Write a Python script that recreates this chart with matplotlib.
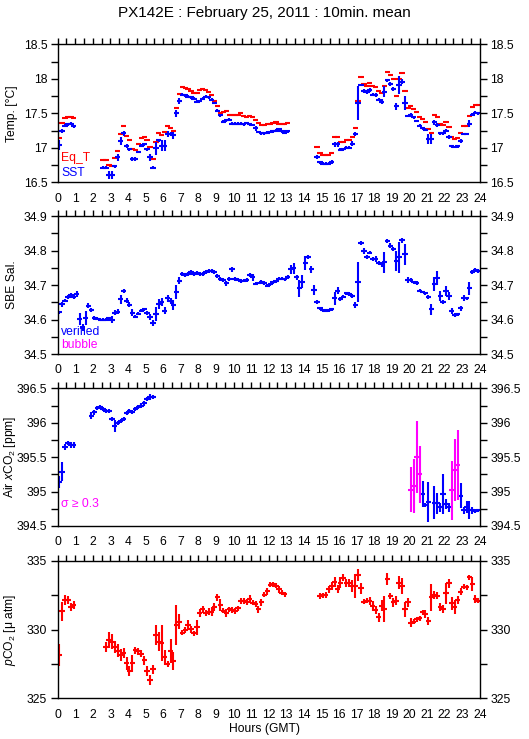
import numpy as np
import matplotlib
matplotlib.use("Agg")
import matplotlib.pyplot as plt
from matplotlib.ticker import MultipleLocator

nan = np.nan
plt.rcParams['font.family'] = ['Liberation Sans', 'DejaVu Sans']
plt.rcParams['mathtext.fontset'] = 'custom'
plt.rcParams['mathtext.rm'] = 'Liberation Sans'
plt.rcParams['mathtext.it'] = 'Liberation Sans:italic'

title = "PX142E : February 25, 2011 : 10min. mean"
hours = (np.arange(144) + 0.5) / 6.0   # 10-minute bin centres

sst = [17.04, 17.24, 17.32, 17.34, 17.35, 17.31,
       nan, nan, nan, nan, nan, nan,
       nan, nan, nan, 16.71, 16.71, 16.61,
       16.61, 16.73, 16.86, 17.10, 17.21, 17.03,
       16.98, 16.84, 16.84, 16.94, 17.03, 17.05,
       16.98, 16.86, 16.71, 16.99, 17.11, 17.03,
       17.03, 17.20, 17.20, 17.18, 17.50, 17.68,
       17.77, 17.76, 17.74, 17.73, 17.71, 17.67,
       17.68, 17.71, 17.74, 17.73, 17.70, 17.65,
       17.54, 17.47, 17.38, 17.40, 17.41, 17.35,
       17.35, 17.35, 17.35, 17.34, 17.36, 17.34,
       17.33, 17.28, 17.23, 17.21, 17.21, 17.22,
       17.23, 17.24, 17.25, 17.27, 17.24, 17.22,
       17.24, nan, nan, nan, nan, nan,
       nan, nan, nan, nan, 16.87, 16.79,
       16.77, 16.77, 16.77, 16.80, 17.05, 17.05,
       16.97, 16.98, 17.00, 17.00, 17.06, 17.20,
       17.65, 17.91, 17.82, 17.81, 17.84, 17.77,
       17.76, 17.70, 17.67, 17.81, 17.98, 17.93,
       17.85, 17.60, 17.91, 17.96, 17.65, 17.46,
       17.48, 17.44, 17.39, 17.32, 17.28, 17.26,
       17.13, 17.13, 17.37, 17.33, 17.21, 17.21,
       17.25, 17.16, 17.02, 17.01, 17.02, 17.10,
       17.20, 17.20, 17.35, 17.48, 17.51, 17.50]
sst_err = [.07, .03, .02, .02, .02, .02,
           0, 0, 0, 0, 0, 0,
           0, 0, 0, .02, .02, .06,
           .06, .02, .05, .06, .04, .03,
           .02, .03, .03, .02, .02, .02,
           .02, .05, .02, .10, .02, .08,
           .08, .04, .03, .05, .05, .04,
           .02, .02, .02, .02, .02, .02,
           .02, .02, .02, .02, .02, .02,
           .02, .02, .02, .02, .02, .02,
           .02, .02, .02, .02, .02, .02,
           .02, .03, .02, .02, .02, .02,
           .02, .02, .02, .02, .02, .02,
           .02, 0, 0, 0, 0, 0,
           0, 0, 0, 0, .03, .02,
           .02, .02, .02, .03, .04, .04,
           .02, .02, .02, .02, .04, .03,
           .24, .02, .03, .03, .03, .02,
           .03, .02, .03, .08, .02, .03,
           .03, .05, .13, .03, .10, .02,
           .03, .02, .02, .02, .02, .02,
           .07, .07, .04, .03, .02, .02,
           .02, .03, .02, .02, .02, .03,
           .02, .02, .05, .02, .02, .02]
eqt = [17.14, 17.36, 17.43, 17.45, 17.45, 17.43,
       nan, nan, nan, nan, nan, nan,
       nan, nan, nan, 16.83, 16.83, 16.75,
       16.74, 16.85, 16.96, 17.20, 17.32, 17.17,
       17.11, 16.98, 16.97, 17.05, 17.14, 17.16,
       17.11, 17.01, 16.84, 17.09, 17.22, 17.18,
       17.23, 17.31, 17.28, 17.25, 17.57, 17.78,
       17.88, 17.87, 17.85, 17.83, 17.80, 17.80,
       17.84, 17.85, 17.84, 17.81, 17.77, 17.68,
       17.60, 17.51, 17.52, 17.53, 17.48, 17.47,
       17.47, 17.48, 17.50, 17.46, 17.45, 17.46,
       17.45, 17.40, 17.36, 17.33, 17.33, 17.35,
       17.35, 17.36, 17.38, 17.35, 17.34, 17.35,
       17.36, nan, nan, nan, nan, nan,
       nan, nan, nan, nan, 17.01, 16.92,
       16.90, 16.89, 16.89, 16.93, 17.15, 17.16,
       17.09, 17.09, 17.12, 17.11, 17.16, 17.28,
       17.68, 18.02, 17.93, 17.90, 17.94, 17.89,
       17.88, 17.82, 17.79, 17.90, 18.10, 18.05,
       17.99, 17.75, 17.99, 18.09, 17.82, 17.57,
       17.60, 17.56, 17.52, 17.44, 17.42, 17.38,
       17.27, 17.21, 17.47, 17.45, 17.34, 17.33,
       17.37, 17.30, 17.15, 17.13, 17.14, 17.21,
       17.31, 17.31, 17.46, 17.59, 17.62, 17.62]

sal = [34.621, 34.644, 34.655, 34.665, 34.672, 34.665,
       34.674, 34.601, 34.577, 34.605, 34.640, 34.628,
       34.605, 34.602, 34.600, 34.599, 34.600, 34.603,
       34.600, 34.620, 34.623, 34.658, 34.683, 34.655,
       34.643, 34.620, 34.608, 34.617, 34.626, 34.629,
       34.620, 34.608, 34.590, 34.615, 34.645, 34.650,
       34.626, 34.661, 34.653, 34.642, 34.680, 34.713,
       34.733, 34.730, 34.733, 34.737, 34.733, 34.734,
       34.733, 34.733, 34.737, 34.740, 34.741, 34.737,
       34.725, 34.718, 34.714, 34.705, 34.718, 34.745,
       34.718, 34.715, 34.712, 34.713, 34.715, 34.730,
       34.722, 34.704, 34.706, 34.709, 34.707, 34.698,
       34.702, 34.708, 34.711, 34.718, 34.718, 34.716,
       34.724, 34.745, 34.748, 34.722, 34.690, 34.710,
       34.763, 34.780, 34.745, 34.685, 34.651, 34.632,
       34.627, 34.626, 34.627, 34.629, 34.661, 34.684,
       34.660, 34.666, 34.676, 34.674, 34.668, 34.642,
       34.708, 34.821, 34.799, 34.781, 34.794, 34.776,
       34.776, 34.763, 34.760, 34.766, 34.828, 34.814,
       34.804, 34.770, 34.780, 34.829, 34.789, 34.714,
       34.715, 34.708, 34.707, 34.683, 34.680, 34.676,
       34.666, 34.629, 34.703, 34.721, 34.669, 34.651,
       34.683, 34.669, 34.625, 34.613, 34.615, 34.632,
       34.663, 34.661, 34.690, 34.737, 34.743, 34.740]
sal_err = [.005, .008, .005, .005, .005, .006,
           .010, .018, .010, .020, .008, .006,
           .005, .004, .004, .004, .004, .004,
           .010, .008, .006, .012, .005, .008,
           .008, .010, .005, .005, .004, .004,
           .006, .008, .010, .020, .015, .012,
           .010, .010, .008, .015, .020, .010,
           .006, .006, .006, .006, .006, .006,
           .006, .006, .006, .006, .006, .006,
           .006, .006, .006, .008, .006, .006,
           .005, .004, .005, .004, .005, .006,
           .010, .004, .004, .005, .006, .005,
           .004, .004, .004, .004, .004, .005,
           .006, .012, .015, .008, .025, .020,
           .020, .006, .010, .015, .005, .005,
           .004, .004, .004, .004, .020, .010,
           .005, .005, .005, .006, .006, .010,
           .058, .006, .008, .006, .005, .006,
           .008, .006, .008, .030, .005, .008,
           .006, .030, .045, .006, .030, .008,
           .006, .004, .006, .004, .004, .004,
           .006, .015, .020, .020, .015, .005,
           .015, .012, .008, .005, .005, .008,
           .008, .005, .018, .006, .005, .006]

air = [395.14, 395.29, 395.65, 395.70, 395.68, 395.68,
       nan, nan, nan, nan, nan, 396.10,
       396.15, 396.21, 396.23, 396.20, 396.17, 396.17,
       396.06, 395.95, 395.99, 396.02, 396.06, 396.14,
       396.17, 396.16, 396.20, 396.23, 396.25, 396.28,
       396.35, 396.37, 396.37, nan, nan, nan] + [nan] * 84 + \
      [395.03, 395.08, 395.50, 395.25, 394.96, 394.80,
       394.85, nan, 394.84, 394.83, 394.77, 394.97,
       394.82, 394.77, 395.02, 395.31, 395.39, 394.94,
       394.73, 394.78, 394.73, 394.73, 394.72, 394.73]
air_err = [.09, .14, .04, .03, .04, .04,
           0, 0, 0, 0, 0, .05,
           .04, .03, .03, .03, .03, .03,
           .03, .09, .03, .03, .03, .03,
           .03, .03, .03, .03, .03, .03,
           .03, .04, .03, 0, 0, 0] + [0] * 84 + \
          [.33, .39, .52, .41, .19, .03,
           .29, 0, .24, .15, .07, .29,
           .07, .06, .43, .45, .51, .18,
           .05, .09, .13, .05, .03, .02]

pco2 = [328.12, 331.32, 332.14, 332.14, 331.66, 331.78,
        nan, nan, nan, nan, nan, nan,
        nan, nan, nan, nan, 328.73, 329.24,
        329.12, 328.73, 328.46, 328.15, 328.32, 327.54,
        327.01, 327.54, 328.49, 328.41, 328.24, 327.78,
        327.01, 326.33, 327.10, 329.60, 329.12, 329.04,
        327.98, 327.49, 328.44, 327.71, 330.33, 330.57,
        329.77, 329.96, 330.33, 330.01, 329.72, 330.16,
        331.22, 331.46, 331.17, 331.30, 331.30, 331.66,
        332.34, 331.78, 331.37, 331.22, 331.46, 331.42,
        331.35, 331.54, 332.07, 332.07, 331.99, 332.19,
        331.95, 331.85, 331.46, 331.99, 332.53, 332.77,
        333.26, 333.28, 333.19, 332.92, 332.68, 332.56,
        nan, nan, nan, nan, nan, nan,
        nan, nan, nan, nan, nan, 332.43,
        332.48, 332.51, 332.92, 333.16, 333.45, 332.92,
        333.40, 333.77, 333.36, 333.40, 333.16, 333.16,
        333.96, 332.99, 332.02, 332.10, 332.07, 331.71,
        331.42, 330.88, 331.71, 331.47, 333.65, 332.43,
        331.97, 332.10, 333.40, 333.16, 331.47, 331.97,
        330.50, 330.57, 330.74, 330.81, 331.25, 331.10,
        330.64, 332.34, 332.51, 332.46, 331.61, 331.47,
        332.63, 333.35, 331.90, 331.61, 332.14, 332.75,
        333.11, 333.06, 333.79, 333.31, 332.22, 332.10]
pco2_err = [.80, .68, .36, .30, .30, .30,
            0, 0, 0, 0, 0, 0,
            0, 0, 0, 0, .34, .55,
            .55, .45, .48, .42, .36, .48,
            .36, .60, .27, .24, .27, .33,
            .36, .33, .33, .73, .70, 1.30,
            .55, .20, .85, .63, 1.48, .55,
            .20, .24, .34, .24, .20, .55,
            .30, .24, .22, .24, .30, .30,
            .25, .42, .20, .30, .20, .20,
            .20, .20, .25, .20, .20, .30,
            .20, .20, .25, .25, .20, .25,
            .20, .20, .20, .25, .20, .20,
            0, 0, 0, 0, 0, 0,
            0, 0, 0, 0, 0, .20,
            .20, .20, .25, .30, .36, .30,
            .40, .25, .30, .30, .46, .85,
            .42, .41, .20, .20, .30, .36,
            .30, .35, .40, .93, .42, .20,
            .30, .30, .46, .61, .55, .30,
            .33, .20, .20, .20, .20, .30,
            .30, 1.00, .30, .25, .30, .30,
            .75, .30, .48, .50, .30, .25,
            .20, .20, .20, .50, .30, .20]

BLUE = '#0000ff'
RED = '#ff0000'
MAG = '#ff00ff'
FS = 8.7
LW = 1.5
HALF = 0.15  # half-width of the horizontal bar (hours)

fig = plt.figure(figsize=(5.29, 7.39), dpi=100)
W, H = 529.0, 739.0
x0, x1 = 57.7, 479.7
panels = [(44.3, 182.3), (216.0, 354.0), (388.3, 526.0), (560.7, 698.3)]
axes = []
for top, bot in panels:
    ax = fig.add_axes([x0 / W, 1 - bot / H, (x1 - x0) / W, (bot - top) / H])
    axes.append(ax)


def style(ax, ylim, major, minor, fmt):
    ax.set_xlim(0, 24)
    ax.set_ylim(*ylim)
    ax.xaxis.set_major_locator(MultipleLocator(1))
    ax.xaxis.set_minor_locator(MultipleLocator(0.5))
    ax.yaxis.set_major_locator(MultipleLocator(major))
    ax.yaxis.set_minor_locator(MultipleLocator(minor))
    ax.tick_params(axis='x', which='both', direction='out', top=True, bottom=False,
                   labelbottom=True, labeltop=False, length=4.5, width=1.0, pad=3,
                   labelsize=FS)
    ax.tick_params(axis='y', which='both', direction='out', left=True, right=True,
                   labelleft=True, labelright=True, length=5, width=1.0, pad=2.5,
                   labelsize=FS)
    ax.yaxis.set_major_formatter(plt.FuncFormatter(fmt))
    for s in ax.spines.values():
        s.set_linewidth(1.0)


def gfmt(v, p):
    return ('%.3f' % v).rstrip('0').rstrip('.')


# Panel 1: temperatures
ax = axes[0]
style(ax, (16.5, 18.5), 0.5, 0.25, gfmt)
h = np.array(hours)
ax.errorbar(h, eqt, xerr=HALF, fmt='none', ecolor=RED, elinewidth=LW, capsize=0)
ax.errorbar(h, sst, xerr=HALF, yerr=sst_err, fmt='none', ecolor=BLUE, elinewidth=LW, capsize=0)
ax.set_ylabel('Temp. [°C]', fontsize=FS)
ax.yaxis.set_label_coords(-0.094, 0.5)
ax.text(0.008, 0.176, 'Eq_T', color=RED, fontsize=FS, transform=ax.transAxes, va='center')
ax.text(0.008, 0.067, 'SST', color=BLUE, fontsize=FS, transform=ax.transAxes, va='center')

# Panel 2: salinity
ax = axes[1]
style(ax, (34.5, 34.9), 0.1, 0.05, gfmt)
ax.errorbar(h, sal, xerr=HALF, yerr=sal_err, fmt='none', ecolor=BLUE, elinewidth=LW, capsize=0)
ax.set_ylabel('SBE Sal.', fontsize=FS)
ax.yaxis.set_label_coords(-0.094, 0.5)
ax.text(0.008, 0.162, 'verified', color=BLUE, fontsize=FS, transform=ax.transAxes, va='center')
ax.text(0.008, 0.065, 'bubble', color=MAG, fontsize=FS, transform=ax.transAxes, va='center')

# Panel 3: air xCO2
ax = axes[2]
style(ax, (394.5, 396.5), 0.5, 0.25, gfmt)
air_a = np.array(air)
aerr = np.array(air_err)
big = aerr >= 0.3
ax.errorbar(h[~big], air_a[~big], xerr=HALF, yerr=aerr[~big], fmt='none', ecolor=BLUE,
            elinewidth=LW, capsize=0)
ax.errorbar(h[big], air_a[big], xerr=HALF, yerr=aerr[big], fmt='none', ecolor=MAG,
            elinewidth=LW, capsize=0)
ax.set_ylabel('Air $x$CO$_2$ [ppm]', fontsize=FS)
ax.yaxis.set_label_coords(-0.094, 0.5)
ax.text(0.008, 0.158, 'σ ≥ 0.3', color=MAG, fontsize=FS, transform=ax.transAxes, va='center')

# Panel 4: pCO2
ax = axes[3]
style(ax, (325, 335), 5, 2.5, gfmt)
ax.errorbar(h, pco2, xerr=HALF, yerr=pco2_err, fmt='none', ecolor=RED, elinewidth=LW, capsize=0)
ax.set_ylabel('$p$CO$_2$ [μ atm]', fontsize=FS)
ax.yaxis.set_label_coords(-0.094, 0.5)
fig.text(0.5, 1 - 729.0 / H, 'Hours (GMT)', ha='center', va='center', fontsize=FS)

fig.text(0.5, 1 - 12.5 / H, title, ha='center', va='center', fontsize=11)

fig.savefig('out.png', dpi=100)
